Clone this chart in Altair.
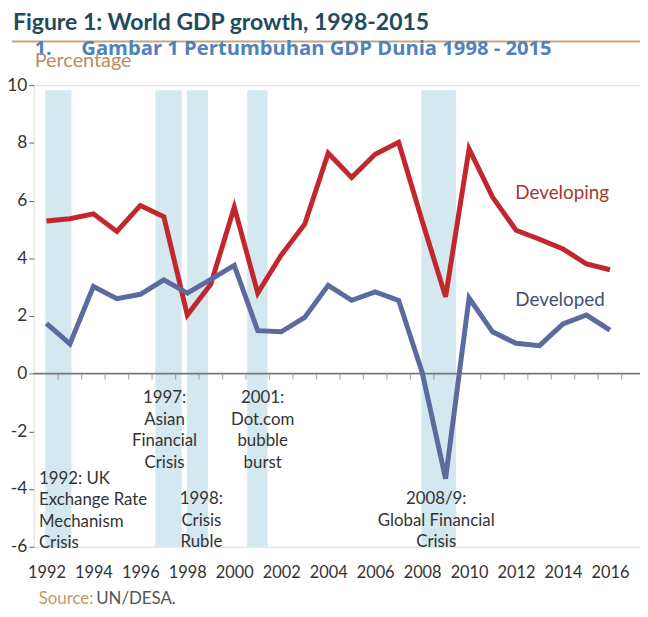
import altair as alt
import pandas as pd

years = [1992, 1993, 1994, 1995, 1996, 1997, 1998, 1999, 2000, 2001, 2002, 2003,
         2004, 2005, 2006, 2007, 2008, 2009, 2010, 2011, 2012, 2013, 2014, 2015, 2016]
developing = [5.29, 5.37, 5.54, 4.93, 5.83, 5.44, 2.03, 3.10, 5.77, 2.79, 4.11, 5.18,
              7.64, 6.80, 7.60, 8.02, 5.30, 2.66, 7.79, 6.12, 4.97, 4.66, 4.32, 3.80, 3.60]
developed = [1.74, 1.03, 3.02, 2.60, 2.75, 3.25, 2.79, 3.27, 3.75, 1.49, 1.45, 1.95,
             3.06, 2.54, 2.83, 2.54, 0.05, -3.64, 2.62, 1.45, 1.05, 0.97, 1.72, 2.03, 1.51]

band_start = [1991.95, 1996.64, 1997.98, 2000.55, 2007.97]
band_end = [1993.07, 1997.76, 1998.88, 2001.42, 2009.44]
band_top = 9.82
band_bottom = -6

x_labels = [1992, 1994, 1996, 1998, 2000, 2002, 2004, 2006, 2008, 2010, 2012, 2014, 2016]
y_labels = [-6, -4, -2, 0, 2, 4, 6, 8, 10]
minor_ticks = [1992.5, 1993.5, 1994.5, 1995.5, 1996.5, 1997.5, 1998.5, 1999.5, 2000.5,
               2001.5, 2002.5, 2003.5, 2004.5, 2005.5, 2006.5, 2007.5, 2008.5, 2009.5,
               2010.5, 2011.5, 2012.5, 2013.5, 2014.5, 2015.5, 2016.5]

ann_center_text = ["1997:\nAsian\nFinancial\nCrisis", "1998:\nCrisis\nRuble",
                   "2001:\nDot.com\nbubble\nburst", "2008/9:\nGlobal Financial\nCrisis"]
ann_center_x = [1997.03, 1998.6, 2001.21, 2008.6]
ann_center_y = [-0.86, -4.36, -0.86, -4.36]
ann_left_text = ["1992: UK\nExchange Rate\nMechanism\nCrisis"]
ann_left_x = [1991.68]
ann_left_y = [-3.65]

label_developing = ("Developing", 2011.97, 6.27)
label_developed = ("Developed", 2011.97, 2.54)

RED = "#c1272d"
BLUE = "#5b6b9e"
FONT = "Lato"

xs = alt.Scale(domain=[1991.46, 2017.28], nice=False, zero=False)
ys = alt.Scale(domain=[-6, 10], nice=False, zero=False)

df = pd.DataFrame({"year": years * 2,
                   "value": developing + developed,
                   "series": ["Developing"] * len(years) + ["Developed"] * len(years)})
bands = pd.DataFrame({"s": band_start, "e": band_end,
                      "top": [band_top] * len(band_start), "bot": [band_bottom] * len(band_start)})

x_axis = alt.Axis(values=x_labels, format="d", ticks=False, domain=False, grid=False,
                  labelPadding=18, title=None, labelFontSize=16.5, labelColor="#333",
                  labelFont=FONT)
y_axis = alt.Axis(values=y_labels, ticks=True, tickSize=5, tickColor="#666", domain=False,
                  grid=False, title=None, labelFontSize=17.5, labelColor="#333",
                  labelFont=FONT, labelPadding=2, labelExpr="'' + datum.value")

band_layer = alt.Chart(bands).mark_rect(color="#d4e8ef").encode(
    x=alt.X("s:Q", scale=xs, axis=x_axis), x2="e:Q",
    y=alt.Y("top:Q", scale=ys, axis=y_axis), y2="bot:Q")

zero_layer = alt.Chart(pd.DataFrame({"z": [0]})).mark_rule(color="#777", strokeWidth=2).encode(
    y=alt.Y("z:Q", scale=ys))

tick_layer = alt.Chart(pd.DataFrame({"t": minor_ticks, "z": [0] * len(minor_ticks)})).mark_tick(
    orient="vertical", size=5, thickness=1.2, color="#888", yOffset=3.5).encode(
    x=alt.X("t:Q", scale=xs), y=alt.Y("z:Q", scale=ys))

line_layer = alt.Chart(df).mark_line(strokeWidth=5, strokeJoin="miter").encode(
    x=alt.X("year:Q", scale=xs),
    y=alt.Y("value:Q", scale=ys),
    color=alt.Color("series:N", scale=alt.Scale(domain=["Developed", "Developing"],
                                                range=[BLUE, RED]), legend=None),
    order=alt.Order("year:Q"),
    detail="series:N")

ann_c = alt.Chart(pd.DataFrame({"x": ann_center_x, "y": ann_center_y, "t": ann_center_text})).mark_text(
    align="center", baseline="middle", lineBreak="\n", lineHeight=21.7, fontSize=17,
    font=FONT, color="#333").encode(x=alt.X("x:Q", scale=xs), y=alt.Y("y:Q", scale=ys), text="t:N")

ann_l = alt.Chart(pd.DataFrame({"x": ann_left_x, "y": ann_left_y, "t": ann_left_text})).mark_text(
    align="left", baseline="middle", lineBreak="\n", lineHeight=21.7, fontSize=17,
    font=FONT, color="#333").encode(x=alt.X("x:Q", scale=xs), y=alt.Y("y:Q", scale=ys), text="t:N")


def series_label(item, color):
    name, x, y = item
    return alt.Chart(pd.DataFrame({"x": [x], "y": [y], "t": [name]})).mark_text(
        align="left", baseline="middle", fontSize=19, font=FONT, color=color).encode(
        x=alt.X("x:Q", scale=xs), y=alt.Y("y:Q", scale=ys), text="t:N")


lab1 = series_label(label_developing, "#a3383c")
lab2 = series_label(label_developed, "#3d5078")


def txt(s, x, y, size, color, font, weight="normal"):
    return alt.Chart(pd.DataFrame({"t": [s]})).mark_text(
        align="left", baseline="alphabetic", fontSize=size, font=font, fontWeight=weight,
        color=color).encode(x=alt.value(x), y=alt.value(y), text="t:N")


title = txt("Figure 1: World GDP growth, 1998-2015", -21, -56, 23.2, "#1f4b5c", FONT, "bold")
rule = alt.Chart(pd.DataFrame({"a": [0]})).mark_rule(color="#c9a57e", strokeWidth=2).encode(
    x=alt.value(-22), x2=alt.value(612), y=alt.value(-44))
h_num = txt("1.", 1, -30, 20, "#4f81bd", "Open Sans", "bold")
h_txt = txt("Gambar 1 Pertumbuhan GDP Dunia 1998 - 2015", 48, -30, 20.4, "#4f81bd", "Open Sans", "bold")
pct = txt("Percentage", 1, -18, 20, "#b98d5d", FONT)
src1 = txt("Source:", 5, 524, 17, "#c39a63", FONT)
src2 = txt("UN/DESA.", 63, 524, 17, "#555", FONT)

chart = alt.layer(band_layer, zero_layer, tick_layer, line_layer, ann_c, ann_l, lab1, lab2,
                  title, rule, h_num, h_txt, pct, src1, src2).properties(
    width=612, height=466,
    autosize=alt.AutoSizeParams(type="none"),
    padding={"left": 26, "top": 75, "right": 0, "bottom": 59},
).configure_view(stroke="#6d6d6d", strokeWidth=1.5).configure(background="white")

chart.save("out.html", embed_options={"renderer": "svg", "actions": False})
